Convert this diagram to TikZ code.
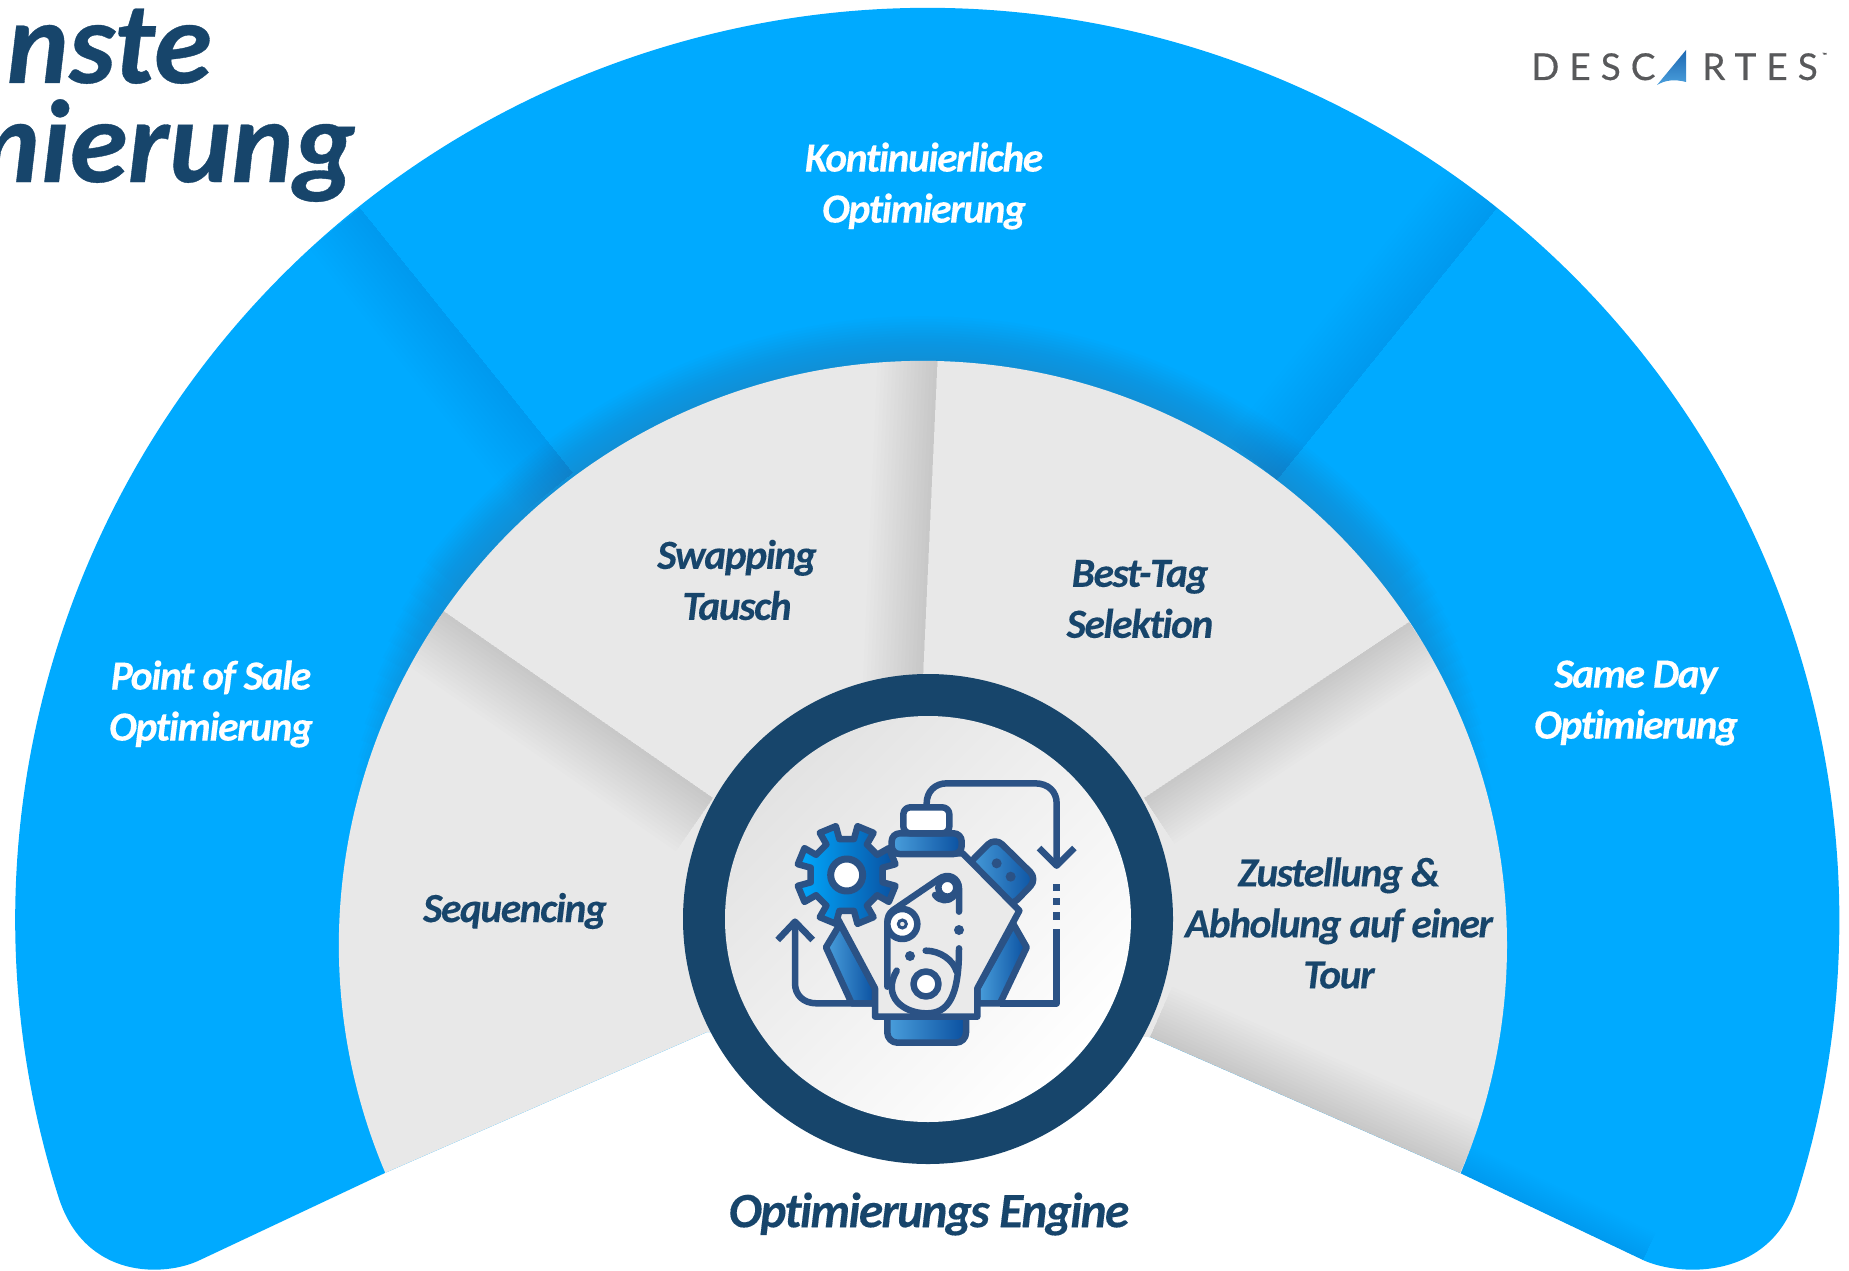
\documentclass[tikz,border=0pt]{standalone}
\usetikzlibrary{calc}
\usepackage{fontspec}
\setmainfont{Carlito}
\newfontfamily\labfont[LetterSpace=-3.5,Ligatures=NoCommon,FakeBold=0.2]{Carlito}
\newfontfamily\titlefont[Ligatures=NoCommon,FakeBold=0.3]{Carlito}
\newfontfamily\logofont[LetterSpace=27,FakeBold=0.4]{Lato}
\definecolor{skyb}{HTML}{00AAFF}
\definecolor{navy}{HTML}{17456B}
\definecolor{sect}{HTML}{E8E8E8}
\definecolor{iconl}{HTML}{2B5285}
\definecolor{gradA}{HTML}{4A9FDC}
\definecolor{gradB}{HTML}{0A50A0}
\definecolor{logog}{HTML}{58595B}
\tikzset{
  lab/.style={inner sep=0pt,align=center,font=\labfont\bfseries\itshape\fontsize{41.5}{51}\selectfont},
  labw/.style={lab,text=white},
  labd/.style={lab,text=navy},
  ttl/.style={inner sep=0pt,text=navy,font=\titlefont\bfseries\itshape\fontsize{118}{118}\selectfont},
  logot/.style={inner sep=0pt,text=logog,font=\logofont\fontsize{37}{37}\selectfont},
  ic/.style={draw=iconl,line width=6.5pt,line join=round},
  icg/.style={ic,left color=gradA,right color=gradB},
}
\newcommand{\softband}[4]{\foreach \w in {1,...,16}{\draw[line width=\w*#3/16*1pt,color=#2,opacity=#4] #1;}}
\newcommand{\bluepath}{(387,1172) -- (200,1260) .. controls (165,1277) and (85,1280) .. (58.6,1197.3) arc[start angle=197.7,end angle=-17.7,radius=912pt] .. controls (1770,1280) and (1680,1277) .. (1643,1260) -- (1460,1173) -- (1150,1037) -- (707,1032) -- cycle}
\newcommand{\graypath}{(923,945) ++(203:584pt) arc[start angle=203,end angle=-23,radius=584pt] -- (1460,1173) -- (1150,1037) -- (707,1032) -- (387,1172) -- cycle}
\definecolor{shb}{RGB}{70,100,130}
\begin{document}
\begin{tikzpicture}[x=1pt,y=-1pt]
\useasboundingbox (0,0) rectangle (1849,1271);
\fill[white] (0,0) rectangle (1849,1271);
% blue band
\fill[skyb] \bluepath;
\begin{scope}
  \clip \bluepath;
  \foreach \w in {1,...,16}{
    \pgfmathsetmacro{\sa}{168-\w*1.6}
    \pgfmathsetmacro{\ea}{12+\w*1.6}
    \draw[line width=\w*5.6pt,color=shb,opacity=0.02,line cap=butt]
      (923,945) ++(\sa:584pt) arc[start angle=\sa,end angle=\ea,radius=584pt];
  }
  \begin{scope}
    \clip (360,208) -- (573,473) -- (573,800) -- (100,800) -- (100,208) -- cycle;
    \softband{(360,208) -- (573,473)}{shb}{130}{0.0025}
  \end{scope}
  \begin{scope}
    \clip (1497,208) -- (1277,480) -- (1000,480) -- (1000,100) -- (1497,100) -- cycle;
    \softband{(1497,208) -- (1277,480)}{shb}{130}{0.004}
  \end{scope}
  \softband{(1460,1173) -- (1643,1260)}{shb}{60}{0.005}
\end{scope}
% grey sectors
\fill[sect] \graypath;
\begin{scope}
  \clip \graypath;
  \begin{scope}
    \clip (442,610) -- (713,798) -- (713,1100) -- (300,1100) -- (300,610) -- cycle;
    \softband{(442,610) -- (713,798)}{black}{130}{0.0065}
  \end{scope}
  \begin{scope}
    \clip (938,350) -- (922,700) -- (700,700) -- (700,350) -- cycle;
    \softband{(938,350) -- (922,700)}{black}{120}{0.0065}
  \end{scope}
  \begin{scope}
    \clip (1409,622) -- (1144,798) -- (1144,1100) -- (1520,1100) -- (1520,622) -- cycle;
    \softband{(1409,622) -- (1144,798)}{black}{110}{0.0065}
  \end{scope}
  \softband{(1150,1037) -- (1460,1173)}{black}{110}{0.0065}
\end{scope}
% central ring
\fill[navy] (928,919) circle[radius=245pt];
\shade[bottom color=white,top color=sect!95!gray,shading angle=45] (928,919) circle[radius=203pt];
% engine icon
\begin{scope}[xshift=740pt,yshift=-720pt,x=0.33333pt,y=-0.33333pt]
  \draw[ic] (560,255) -- (560,250) .. controls (560,215) and (585,190) .. (620,190) -- (885,190) .. controls (925,190) and (950,215) .. (950,250) -- (950,430);
  \draw[ic] (897,384) -- (950,437) -- (1003,384);
  \foreach \yy in {502,545,588}{\fill[iconl] (939,\yy-11) rectangle (961,\yy+11);}
  \draw[ic] (950,628) -- (950,850) -- (780,850);
  \draw[ic] (400,850) -- (230,850) .. controls (190,850) and (165,825) .. (165,790) -- (165,610);
  \draw[ic] (113,660) -- (165,605) -- (218,660);
  % lower blocks, valve cover, sump
  \draw[icg] (300,612) -- (258,682) -- (335,850) -- (405,850) -- (405,805) -- cycle;
  \draw[icg] (820,612) -- (860,682) -- (780,850) -- (712,850) -- (712,805) -- cycle;
  \draw[icg,rounded corners=10pt] (680,438) -- (765,352) -- (892,477) -- (812,560) -- cycle;
  \fill[iconl] (770,430) circle[radius=5pt] (812,470) circle[radius=5pt];
  \draw[icg,rounded corners=10pt] (442,880) -- (442,968) -- (678,968) -- (678,880);
  % body
  \draw[ic,fill=sect!90!white,line join=round] (455,400) -- (668,400) -- (838,572) -- (712,805) -- (712,890) -- (405,890) -- (405,805) -- (290,590) -- (300,500) -- cycle;
  % collar and cap
  \draw[icg,rounded corners=8pt] (455,402) -- (455,340) -- (665,340) -- (665,402) -- cycle;
  \draw[ic,fill=white,rounded corners=7pt] (490,340) -- (490,262) -- (628,262) -- (628,340) -- cycle;
  % belt
  \draw[ic,line cap=round] (657,575) -- (657,505) .. controls (657,475) and (625,455) .. (595,478) -- (460,570) .. controls (447,580) and (442,590) .. (442,610) -- (442,800);
  \draw[ic,fill=white] (622,503) circle[radius=9pt];
  \draw[ic,line cap=round] (585,525) .. controls (600,545) and (625,545) .. (640,530);
  \draw[ic,fill=white] (487,612) circle[radius=15pt];
  \draw[iconl,line width=3pt,fill=sect] (487,612) circle[radius=4pt];
  \fill[iconl] (657,630) circle[radius=5pt] (510,708) circle[radius=5pt];
  \draw[ic,line cap=round] (470,752) .. controls (425,830) and (490,880) .. (560,880) .. controls (625,880) and (657,830) .. (657,685);
  \draw[ic,line cap=round] (557,692) .. controls (600,692) and (640,720) .. (650,755);
  \draw[ic,fill=white] (558,792) circle[radius=12.5pt];
  % gear
  \draw[ic,left color=skyb,right color=gradB]
    ($(320,465)+(10.5:110)$)
    \foreach \a in {22.5,67.5,...,337.5}{
      -- ($(320,465)+(\a-11:110)$) -- ($(320,465)+(\a-10:150)$) -- ($(320,465)+(\a+10:150)$) -- ($(320,465)+(\a+11:110)$)
    } -- cycle;
  \draw[ic,line width=7pt,fill=white] (320,465) circle[radius=16pt];
\end{scope}
% labels
\node[labw] (lKont) at (924,186) {Kontinuierliche\\Optimierung};
\node[labd] (lSwap) at (737,580) {Swapping\\Tausch};
\node[labd] (lBest) at (1140,599) {Best-Tag\\Selektion};
\node[labw] (lPos)  at (211,704) {Point of Sale\\Optimierung};
\node[labw] (lSame) at (1636,703) {Same Day\\Optimierung};
\node[labd] (lSeq)  at (515,911) {Sequencing};
\node[labd] (lZust) at (1339,923) {Zustellung \&\\Abholung auf einer\\Tour};
\node[lab,text=navy,font=\labfont\bfseries\itshape\fontsize{49.5}{51}\selectfont] (lEng) at (929,1214) {Optimierungs Engine};
% title
\node[ttl,anchor=base east] (tA) at (212,83) {nste};
\node[ttl,anchor=base east] (tB) at (356,182) {mierung};
% logo
\node[logot,anchor=base west] (lgA) at (1531,80) {DESC};
\node[logot,anchor=base west] (lgB) at (1702,80) {RTES};
\shade[bottom color=gradA,top color=gradB!70!gradA] (1657,85) -- (1686,50) -- (1686,82) .. controls (1675,79) and (1665,80) .. (1657,85) -- cycle;
\node[inner sep=0pt,text=logog,font=\logofont\fontsize{6}{6}\selectfont,anchor=west] (lgT) at (1822,55) {™};
\end{tikzpicture}
\end{document}
